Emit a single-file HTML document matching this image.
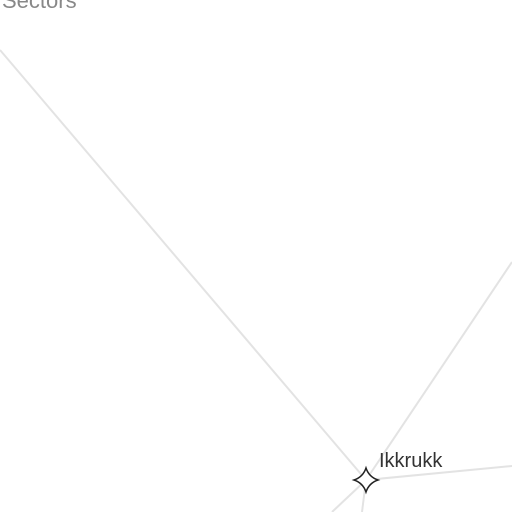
<!DOCTYPE html>
<html><head><meta charset="utf-8"><style>
html,body{margin:0;padding:0;background:#fff;width:512px;height:512px;overflow:hidden}
</style></head><body>
<svg width="512" height="512" viewBox="0 0 512 512">
<text x="2" y="8" font-family="Liberation Sans, sans-serif" font-size="22" fill="#888">Sectors</text>
<g id="edges"></g>
<g id="nodes"></g>
</svg>
<script>
const nodeNames = ["Ikkrukk"];
const nodeX = [366];
const nodeY = [480];
const edgeEndX = [0, 512, 512, 332, 362];
const edgeEndY = [50, 262, 466, 512, 512];
const ns = "http://www.w3.org/2000/svg";
const eg = document.getElementById('edges');
for (let i = 0; i < edgeEndX.length; i++) {
  const l = document.createElementNS(ns, 'line');
  l.setAttribute('x1', nodeX[0]); l.setAttribute('y1', nodeY[0]);
  l.setAttribute('x2', edgeEndX[i]); l.setAttribute('y2', edgeEndY[i]);
  l.setAttribute('stroke', '#e3e3e3'); l.setAttribute('stroke-width', '2');
  
  
  eg.appendChild(l);
}
const ng = document.getElementById('nodes');
for (let i = 0; i < nodeNames.length; i++) {
  const x = nodeX[i], y = nodeY[i], r = 12, q = 3;
  const p = document.createElementNS(ns, 'path');
  p.setAttribute('d', `M${x},${y-r} Q${x+q},${y-q} ${x+r},${y} Q${x+q},${y+q} ${x},${y+r} Q${x-q},${y+q} ${x-r},${y} Q${x-q},${y-q} ${x},${y-r}Z`);
  p.setAttribute('fill', '#fff'); p.setAttribute('stroke', '#222'); p.setAttribute('stroke-width', '1.5');
  
  
  ng.appendChild(p);
  const t = document.createElementNS(ns, 'text');
  t.setAttribute('x', x + 13); t.setAttribute('y', y - 13);
  t.setAttribute('font-family', 'Liberation Sans, sans-serif');
  t.setAttribute('font-size', '20'); t.setAttribute('fill', '#333');
  t.textContent = nodeNames[i];
  
  
  ng.appendChild(t);
}
</script>
</body></html>
